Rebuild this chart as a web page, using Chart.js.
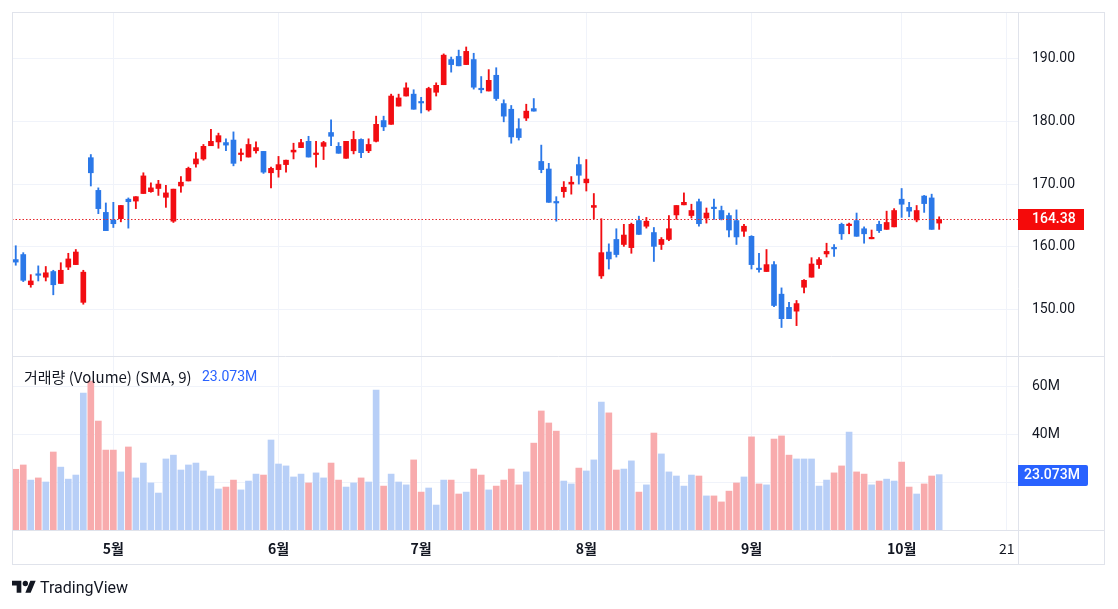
<!DOCTYPE html>
<html><head><meta charset="utf-8">
<script src="https://cdn.jsdelivr.net/npm/chart.js@4.4.1/dist/chart.umd.min.js"></script>
<style>
html,body{margin:0;padding:0;background:#fff;width:1118px;height:609px;overflow:hidden;}
#c{position:absolute;left:0;top:0;width:1118px;height:609px;}
#logo{position:absolute;left:12px;top:577px;height:20px;display:flex;align-items:center;font-family:Roboto,'Noto Sans',sans-serif;font-size:16px;color:#131722;}
#logo svg{margin-right:4px;}
</style></head><body>
<canvas id="c" width="1118" height="609"></canvas>
<div id="logo"><svg width="24" height="19" viewBox="0 0 36 28"><path fill="#131722" d="M14 22H7V11H0V4h14v18zM28 22h-8l7.5-18h8L28 22z"/><circle fill="#131722" cx="20" cy="8" r="4"/></svg><span>TradingView</span></div>
<script>
// ---- data ----
const holidays = ['2024-05-27','2024-06-19','2024-07-04','2024-09-02'];
const tickLabels = {'2024-05-01':'5월','2024-06-03':'6월','2024-07-01':'7월','2024-08-01':'8월','2024-09-03':'9월','2024-10-01':'10월','2024-10-21':'21'};
const priceTicks = [150,160,170,180,190];
const volumeTicks = [20,40,60];

const opens = [158.0,158.8,154.0,155.7,155.2,156.1,154.2,156.8,157.2,151.2,
174.2,169.0,165.5,164.3,164.5,167.6,167.3,168.5,168.8,169.3,
167.9,164.1,169.7,170.5,173.2,174.0,176.1,176.7,176.6,177.0,
174.7,174.3,175.3,175.2,171.8,172.3,173.1,175.1,175.8,176.8,
174.7,176.0,178.2,176.0,174.1,175.3,177.1,175.3,176.8,180.1,
179.5,182.4,184.0,184.3,183.1,181.8,184.6,185.8,189.8,190.3,
189.0,189.8,185.2,184.8,187.3,182.8,181.9,178.8,180.5,182.0,
173.6,172.4,167.1,168.8,170.0,173.1,170.2,166.3,155.4,159.2,
161.2,160.4,159.9,164.2,163.3,162.3,160.4,161.2,165.1,166.7,
165.0,167.2,164.6,166.3,165.8,165.0,164.2,162.5,161.7,156.6,
156.1,157.2,152.5,150.4,149.8,153.6,155.2,157.2,158.9,159.9,
163.6,163.4,164.2,162.9,161.3,163.6,162.8,163.2,167.6,166.3,
164.3,168.1,167.8,163.8];
const highs = [160.2,159.1,155.6,157.0,156.9,156.3,157.5,159.0,159.6,156.3,
174.7,169.4,167.0,167.1,166.6,167.8,168.0,171.8,170.2,170.6,
169.8,169.2,171.2,172.7,175.0,176.3,178.7,178.1,177.2,178.3,
175.6,177.2,176.7,175.2,172.7,174.4,173.8,176.5,177.1,177.6,
176.8,176.8,180.2,176.6,176.8,178.4,177.2,177.2,180.8,180.8,
184.3,184.3,186.1,185.0,183.8,185.4,186.1,190.7,190.2,191.3,
191.8,190.8,187.1,188.2,188.5,183.4,182.5,180.4,182.7,183.6,
176.2,173.3,168.0,170.4,171.2,174.3,173.9,168.5,164.5,160.5,
162.9,163.6,163.8,164.9,164.7,163.1,161.5,165.0,166.6,168.6,
166.8,167.6,166.2,167.6,166.5,165.4,165.9,163.6,161.8,159.0,
159.6,157.7,153.5,151.2,151.5,154.8,158.3,158.3,160.6,160.4,
163.8,163.8,165.4,163.2,162.7,164.1,165.7,166.1,169.3,167.1,
166.6,168.2,168.4,164.8];
const lows = [157.1,154.5,153.6,154.6,154.6,152.4,154.2,156.4,157.2,150.9,
169.7,165.3,162.6,163.1,164.0,163.0,166.1,168.5,168.7,168.2,
166.3,163.9,168.7,170.5,172.7,173.8,176.1,175.7,175.3,172.9,
173.7,174.3,174.9,171.7,169.4,171.1,171.9,174.0,175.8,174.3,
172.7,173.9,176.1,174.9,174.1,174.8,174.2,175.0,176.7,178.5,
179.5,182.4,184.0,181.9,181.3,181.6,184.0,185.8,187.8,188.8,
189.0,185.1,184.5,184.8,183.3,179.9,176.5,177.0,180.1,181.6,
171.8,167.1,164.1,167.9,168.4,170.0,168.9,164.5,155.0,156.5,
158.4,160.1,159.0,162.0,163.0,157.7,159.6,161.0,164.4,166.7,
164.6,163.3,163.8,164.4,164.3,161.6,160.4,161.7,156.5,156.0,
156.1,150.5,147.2,148.6,147.5,152.7,155.2,156.6,158.4,158.5,
161.2,162.1,161.7,160.6,161.3,162.3,162.8,163.2,164.7,164.8,
164.0,165.5,162.8,162.8];
const closes = [157.6,154.7,154.6,155.5,155.9,154.0,156.3,158.1,159.2,156.0,
171.8,166.1,162.6,163.7,166.6,167.2,168.0,171.3,169.4,170.0,
168.6,169.2,170.3,172.5,174.0,176.0,176.8,177.7,176.2,173.3,
174.9,176.3,175.8,171.9,172.5,173.1,173.8,175.4,176.6,174.3,
174.9,176.6,177.6,174.9,176.8,177.1,175.0,176.3,179.5,179.1,
184.0,183.7,185.3,181.9,182.9,185.2,185.7,190.5,189.0,188.8,
191.1,185.4,185.0,186.5,183.6,180.8,177.5,177.4,181.6,181.6,
172.3,167.1,167.0,169.5,170.3,171.4,170.8,166.6,159.1,158.1,
158.8,161.9,163.6,162.0,164.1,160.1,161.2,162.9,166.6,167.1,
165.8,163.7,165.4,166.1,164.5,162.7,161.6,163.3,157.2,156.4,
157.2,150.7,148.6,148.6,151.0,154.7,157.3,158.0,159.3,159.7,
162.1,163.6,161.7,162.1,161.45,162.6,163.9,165.8,166.8,165.7,
165.8,166.9,162.8,164.38];
const volumes = [25.3,27.1,20.8,21.7,20.0,32.5,26.2,21.2,22.9,57.1,
62.0,45.4,33.3,33.3,24.2,34.6,21.7,27.9,19.6,15.4,
29.6,31.2,25.0,27.1,27.9,24.6,22.5,17.1,17.9,20.8,
16.7,20.4,23.3,22.9,37.5,27.5,26.7,22.1,23.3,19.6,
23.8,21.7,27.9,20.8,17.9,19.6,21.7,20.0,58.3,18.3,
23.3,20.0,18.8,29.2,15.8,17.5,10.4,20.8,20.8,15.0,
15.8,25.4,22.9,16.7,18.3,20.8,25.4,18.8,24.2,36.2,
49.6,44.6,41.2,20.4,19.2,25.8,24.6,29.2,53.3,48.8,
25.0,25.4,28.8,15.8,18.8,40.4,31.7,24.2,22.5,18.3,
22.9,22.5,14.2,14.2,11.7,16.2,19.6,22.1,38.8,19.2,
18.8,37.9,39.2,31.2,29.6,29.6,29.6,18.3,20.8,23.8,
26.7,40.8,24.2,23.3,18.8,20.4,21.2,20.4,28.3,17.9,
15.0,19.2,22.5,23.073];

// ---- categories (trading days, incl. empty future days) ----
const dates = [];
{
  const d = new Date(Date.UTC(2024,3,12));
  const end = Date.UTC(2024,9,22);
  while (d.getTime() <= end) {
    const s = d.toISOString().slice(0,10);
    const w = d.getUTCDay();
    if (w !== 0 && w !== 6 && !holidays.includes(s)) dates.push(s);
    d.setUTCDate(d.getUTCDate()+1);
  }
}

const UP = '#f20d12', DOWN = '#2b78e8';
const VUP = '#b8cff7', VDOWN = '#f8abad';
const candleColors = opens.map((o,i)=> closes[i] >= o ? UP : DOWN);
const volColors = opens.map((o,i)=> closes[i] >= o ? VUP : VDOWN);
const lastClose = closes[closes.length-1];
const lastVol = volumes[volumes.length-1];

const FONT = "Roboto, 'Noto Sans CJK KR', sans-serif";
const KFONT = "'Noto Sans CJK KR', 'Noto Sans', sans-serif";
const L=12, T=12, R=1105, B=565, AX=1018, SEP=356, XB=530;

function noPad(s){ s.paddingTop = 0; s.paddingBottom = 0; s.paddingLeft = 0; s.paddingRight = 0; }

const overlay = {
  id:'overlay',
  afterDatasetsDraw(chart){
    const c = chart.ctx, yP = chart.scales.yP;
    const y = Math.round(yP.getPixelForValue(lastClose)) + 0.5;
    c.save();
    c.strokeStyle = '#e5262b'; c.lineWidth = 1; c.setLineDash([1.5,2]);
    c.beginPath(); c.moveTo(L, y); c.lineTo(AX, y); c.stroke();
    c.restore();
  },
  afterDraw(chart){
    const c = chart.ctx, yP = chart.scales.yP, yV = chart.scales.yV;
    c.save();
    c.strokeStyle = '#e0e3eb'; c.lineWidth = 1;
    c.strokeRect(L+0.5, T+0.5, R-L-1, B-T-1);
    c.beginPath();
    c.moveTo(L, SEP+0.5); c.lineTo(R, SEP+0.5);
    c.moveTo(L, XB+0.5); c.lineTo(R, XB+0.5);
    c.moveTo(AX+0.5, T); c.lineTo(AX+0.5, B);
    c.stroke();
    // price label
    const py = yP.getPixelForValue(lastClose);
    c.fillStyle = '#f50a0a';
    c.fillRect(AX, Math.round(py-10), 66, 21);
    c.fillStyle = '#ffffff'; c.font = "500 14px " + FONT; c.textBaseline = 'middle'; c.textAlign='left';
    c.fillText(lastClose.toFixed(2), 1032, py+0.5);
    // volume label
    const vy = yV.getPixelForValue(lastVol);
    c.fillStyle = '#2962ff';
    c.beginPath();
    if (c.roundRect) c.roundRect(AX, Math.round(vy-10), 70, 21, [0,2,2,0]); else c.rect(AX, Math.round(vy-10), 70, 21);
    c.fill();
    c.fillStyle = '#ffffff';
    c.fillText(lastVol.toFixed(3)+'M', 1024, vy+0.5);
    // legend
    c.font = "15px " + KFONT; c.fillStyle = '#131722';
    const t1 = '거래량 (Volume) (SMA, 9)';
    c.fillText(t1, 24, 377);
    const w = c.measureText(t1).width;
    c.fillStyle = '#2962ff'; c.font = "14px " + FONT;
    c.fillText(lastVol.toFixed(3)+'M', Math.max(202, 24 + w + 8), 377);
    c.restore();
  }
};

new Chart(document.getElementById('c'), {
  data: {
    labels: dates,
    datasets: [
      {type:'bar', data: volumes, yAxisID:'yV', backgroundColor: volColors, barThickness:6, grouped:false, borderWidth:0},
      {type:'bar', data: lows.map((l,i)=>[l, highs[i]]), yAxisID:'yP', backgroundColor: candleColors, barThickness:1.2, grouped:false, borderWidth:0},
      {type:'bar', data: opens.map((o,i)=>[o, closes[i]]), yAxisID:'yP', backgroundColor: candleColors, barThickness:5, minBarLength:1.5, grouped:false, borderWidth:0}
    ]
  },
  options: {
    responsive:false, animation:false, devicePixelRatio: window.devicePixelRatio || 1,
    layout:{padding:{left:L, top:T, right:1118-R, bottom:609-B}},
    plugins:{legend:{display:false}, tooltip:{enabled:false}},
    scales:{
      x:{type:'category', offset:true,
         grid:{offset:false, color:'#f0f3fa', drawTicks:false},
         border:{display:false},
         ticks:{autoSkip:false, maxRotation:0, padding:10, color:'#131722',
           font:(ctx)=>({family:KFONT, size:14, weight: (ctx.tick && ctx.tick.label==='21') ? 'normal' : 'bold'}),
           callback:(v,i)=> tickLabels[dates[i]] ?? null},
         afterFit:(s)=>{s.height = B - XB; noPad(s);}},
      yP:{type:'linear', position:'right', stack:'panes', stackWeight:SEP-T, min:142.67, max:197.36,
         afterBuildTicks:(s)=>{s.ticks = priceTicks.map(v=>({value:v}));},
         grid:{color:'#f0f3fa', drawTicks:false}, border:{display:false},
         ticks:{padding:14, color:'#131722', font:{family:FONT, size:14}, callback:(v)=>Number(v).toFixed(2)},
         afterFit:(s)=>{s.width = R - AX; noPad(s);}},
      yV:{type:'linear', position:'right', stack:'panes', stackWeight:XB-SEP, min:0, max:72.5,
         afterBuildTicks:(s)=>{s.ticks = volumeTicks.map(v=>({value:v}));},
         grid:{color:'#f0f3fa', drawTicks:false}, border:{display:false},
         ticks:{padding:14, color:'#131722', font:{family:FONT, size:14}, callback:(v)=>v+'M'},
         afterFit:(s)=>{s.width = R - AX; noPad(s);}}
    }
  },
  plugins:[overlay]
});
</script>
</body></html>
